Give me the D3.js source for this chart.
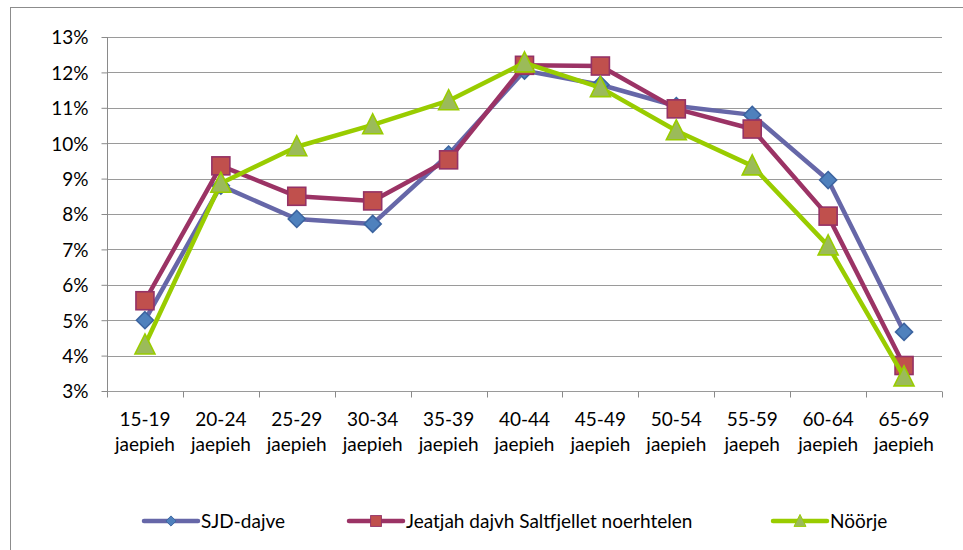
<!DOCTYPE html>
<html>
<head>
<meta charset="utf-8">
<script src="https://cdn.jsdelivr.net/npm/d3@7"></script>
<style>
  body { margin: 0; background: #fff; }
  svg text { font-family: Lato, "Open Sans", sans-serif; fill: #000; }
</style>
</head>
<body>
<svg id="chart"></svg>
<script>
// ---------------- data ----------------
const ageGroups = ['15-19', '20-24', '25-29', '30-34', '35-39', '40-44', '45-49', '50-54', '55-59', '60-64', '65-69'];
const ageSuffix = ['jaepieh', 'jaepieh', 'jaepieh', 'jaepieh', 'jaepieh', 'jaepieh', 'jaepieh', 'jaepieh', 'jaepeh', 'jaepieh', 'jaepieh'];
const sjd      = [5.0, 8.8, 7.86, 7.72, 9.68, 12.05, 11.65, 11.05, 10.8, 8.96, 4.67];
const jeatjah  = [5.55, 9.36, 8.5, 8.37, 9.53, 12.2, 12.18, 10.97, 10.4, 7.94, 3.72];
const noorje   = [4.3, 8.87, 9.9, 10.52, 11.2, 12.27, 11.57, 10.35, 9.36, 7.1, 3.4];
const yTicks   = [3, 4, 5, 6, 7, 8, 9, 10, 11, 12, 13];

const series = [
  { name: 'SJD-dajve', values: sjd, line: '#6667a8', fill: '#4f81bd', stroke: '#3c64a0', shape: 'diamond' },
  { name: 'Jeatjah dajvh Saltfjellet noerhtelen', values: jeatjah, line: '#9b3365', fill: '#c0504d', stroke: '#943266', shape: 'square' },
  { name: 'Nöörje', values: noorje, line: '#99cc00', fill: '#9bbb59', stroke: '#99cc00', shape: 'triangle' }
];

// ---------------- layout ----------------
const width = 963, height = 550;
const plot = { left: 107, right: 942, top: 37, bottom: 391 };
const fontSize = 19;

const svg = d3.select('#chart').attr('width', width).attr('height', height);

// outer chart border
svg.append('rect')
  .attr('x', 10.5).attr('y', 7.5)
  .attr('width', width).attr('height', height)
  .attr('fill', 'none').attr('stroke', '#8c8c8c').attr('stroke-width', 1);

const x = d3.scaleBand().domain(ageGroups).range([plot.left, plot.right]);
const y = d3.scaleLinear().domain([3, 13]).range([plot.bottom, plot.top]);

// gridlines
svg.append('g')
  .selectAll('line')
  .data(yTicks)
  .join('line')
    .attr('x1', plot.left).attr('x2', plot.right)
    .attr('y1', d => Math.round(y(d)) + 0.5).attr('y2', d => Math.round(y(d)) + 0.5)
    .attr('stroke', '#9a9a9a').attr('stroke-width', 1.2);

// y axis
const yAxis = svg.append('g')
  .attr('transform', `translate(${plot.left + 0.5},0)`)
  .call(d3.axisLeft(y).tickValues(yTicks).tickFormat(d => d + '%').tickSize(6).tickPadding(13));
yAxis.select('.domain').attr('stroke', '#8a8a8a').attr('d', `M0,${plot.top}V${plot.bottom}`);
yAxis.selectAll('.tick line').attr('stroke', '#8a8a8a');
yAxis.selectAll('.tick text').attr('font-size', fontSize).attr('font-family', 'Lato, sans-serif').attr('dy', '0.36em');

// x axis: ticks between categories
const xAxisG = svg.append('g').attr('transform', `translate(0,${Math.round(plot.bottom) + 0.5})`);
const edges = ageGroups.map(d => x(d)).concat([x.range()[1]]);
xAxisG.selectAll('line.tick')
  .data(edges)
  .join('line')
    .attr('class', 'tick')
    .attr('x1', d => Math.round(d) + 0.5).attr('x2', d => Math.round(d) + 0.5)
    .attr('y1', 0).attr('y2', 6)
    .attr('stroke', '#8a8a8a');
const lbl = xAxisG.selectAll('text.lbl')
  .data(ageGroups)
  .join('text')
    .attr('class', 'lbl')
    .attr('text-anchor', 'middle')
    .attr('font-size', fontSize)
    .attr('x', d => x(d) + x.bandwidth() / 2);
lbl.append('tspan').attr('x', d => x(d) + x.bandwidth() / 2).attr('y', 34).text(d => d);
lbl.append('tspan').attr('x', d => x(d) + x.bandwidth() / 2).attr('y', 59).text((d, i) => ageSuffix[i]);

// ---------------- lines & markers ----------------
const cx = (d, i) => x(ageGroups[i]) + x.bandwidth() / 2;
const line = d3.line().x(cx).y(d => y(d));

function marker(sel, s) {
  if (s.shape === 'diamond') {
    sel.append('path').attr('d', 'M0,-8.5L8.5,0L0,8.5L-8.5,0Z');
  } else if (s.shape === 'square') {
    sel.append('rect').attr('x', -9).attr('y', -9).attr('width', 18).attr('height', 18);
  } else {
    sel.append('path').attr('d', 'M0,-11L10,9L-10,9Z');
  }
  sel.selectAll('*').attr('fill', s.fill).attr('stroke', s.stroke).attr('stroke-width', 1.6);
}

series.forEach(s => {
  const g = svg.append('g');
  g.append('path')
    .datum(s.values)
    .attr('d', line)
    .attr('fill', 'none')
    .attr('stroke', s.line)
    .attr('stroke-width', 4.5)
    .attr('stroke-linejoin', 'round');
  g.selectAll('g.pt')
    .data(s.values)
    .join('g')
      .attr('class', 'pt')
      .attr('transform', (d, i) => `translate(${cx(d, i)},${y(d)})`)
      .each(function() { marker(d3.select(this), s); });
});

// ---------------- legend ----------------
const legendY = 521;
const legendX = [144, 349, 773];
series.forEach((s, i) => {
  const g = svg.append('g').attr('transform', `translate(${legendX[i]},${legendY})`);
  g.append('line').attr('x1', 0).attr('x2', 54).attr('y1', 0).attr('y2', 0)
    .attr('stroke', s.line).attr('stroke-width', 4.5).attr('stroke-linecap', 'round');
  const m = g.append('g').attr('transform', 'translate(27,0) scale(0.6)');
  marker(m, s);
  g.append('text').attr('x', 57).attr('y', 0).attr('dy', '0.36em')
    .attr('font-size', fontSize).text(s.name);
});
</script>
</body>
</html>
